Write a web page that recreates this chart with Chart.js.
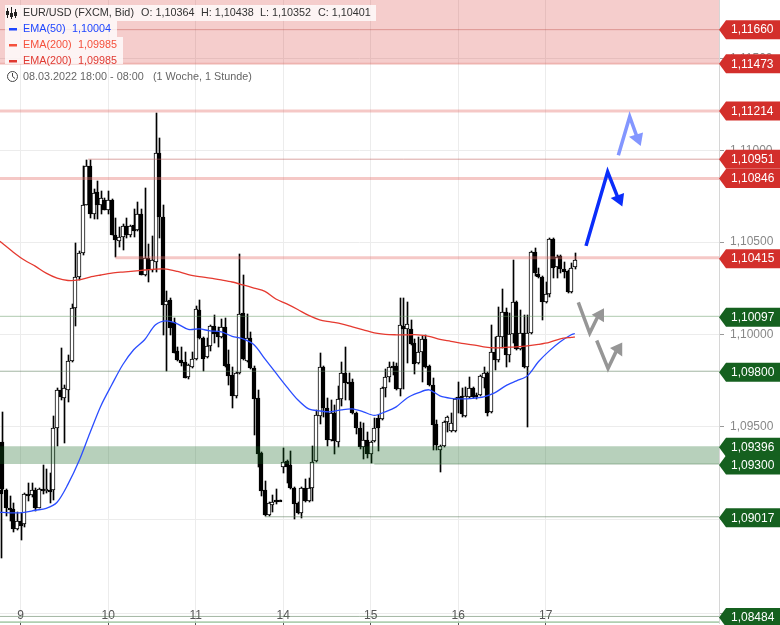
<!DOCTYPE html>
<html>
<head>
<meta charset="utf-8">
<title>EUR/USD</title>
<script src="https://cdn.jsdelivr.net/npm/chart.js@4/dist/chart.umd.min.js"></script>
<style>
  html, body { margin: 0; padding: 0; background: #fff; }
  canvas { display: block; }
</style>
</head>
<body>
<canvas id="chart" width="780" height="625"></canvas>
<script>
const opens = [
  1.09160,1.09419,1.09160,1.09062,1.09057,1.08949,1.08992,1.08976,1.09138,1.09133,
  1.09160,1.09062,1.09165,1.09160,1.09160,1.09160,1.09494,1.09700,1.09656,1.09700,
  1.09856,1.10142,1.10310,1.10439,1.10704,1.10915,1.10655,1.10774,1.10704,1.10726,
  1.10672,1.10731,1.10537,1.10504,1.10526,1.10585,1.10537,1.10591,1.10564,1.10650,
  1.10321,1.10412,1.10348,1.10391,1.10985,1.10634,1.10159,1.10186,1.10067,1.09910,
  1.09862,1.09851,1.09770,1.09824,1.09867,1.10132,1.09980,1.09878,1.09937,1.10045,
  1.10013,1.09986,1.10040,1.09840,1.09781,1.09667,1.09791,1.10115,1.09856,1.09980,
  1.09818,1.09656,1.09359,1.09160,1.09025,1.09079,1.09106,1.09106,1.09284,1.09316,
  1.09295,1.09170,1.09089,1.09035,1.09170,1.09100,1.09170,1.09316,1.09559,1.09824,
  1.09602,1.09430,1.09575,1.09419,1.09651,1.09791,1.09743,1.09743,1.09575,1.09494,
  1.09392,1.09430,1.09354,1.09424,1.09548,1.09543,1.09710,1.09770,1.09829,1.09829,
  1.09705,1.10045,1.10029,1.10029,1.09953,1.09845,1.09905,1.09975,1.09829,1.09727,
  1.09516,1.09376,1.09397,1.09527,1.09478,1.09478,1.09662,1.09667,1.09559,1.09662,
  1.09710,1.09673,1.09673,1.09764,1.09791,1.09581,1.09905,1.09862,1.09986,1.10121,
  1.09889,1.10002,1.10175,1.09921,1.10007,1.09824,1.10007,1.10445,1.10326,1.10310,
  1.10175,1.10218,1.10515,1.10364,1.10423,1.10353,1.10342,1.10229,1.10364
];
const highs = [
  1.09165,1.09581,1.09165,1.09127,1.09089,1.09041,1.09035,1.09143,1.09197,1.09197,
  1.09170,1.09170,1.09295,1.09273,1.09251,1.09559,1.09710,1.09926,1.09727,1.09889,
  1.10164,1.10493,1.10450,1.10915,1.10947,1.10947,1.10790,1.10834,1.10780,1.10742,
  1.10780,1.10736,1.10628,1.10580,1.10596,1.10628,1.10591,1.10677,1.10720,1.10682,
  1.10796,1.10488,1.10531,1.11206,1.11066,1.10699,1.10234,1.10196,1.10088,1.09932,
  1.09932,1.09905,1.09840,1.09905,1.10153,1.10186,1.09986,1.09980,1.10051,1.10105,
  1.10040,1.10083,1.10088,1.09916,1.09824,1.09797,1.10434,1.10321,1.10110,1.10013,
  1.09829,1.09700,1.09365,1.09208,1.09095,1.09133,1.09165,1.09106,1.09386,1.09322,
  1.09370,1.09176,1.09095,1.09176,1.09219,1.09224,1.09397,1.09592,1.09899,1.09829,
  1.09656,1.09646,1.09619,1.09721,1.09851,1.09932,1.09791,1.09759,1.09581,1.09527,
  1.09521,1.09473,1.09424,1.09548,1.09565,1.09716,1.09813,1.09851,1.09851,1.09845,
  1.10196,1.10196,1.10175,1.10078,1.09975,1.09986,1.09991,1.09997,1.09835,1.09764,
  1.09538,1.09403,1.09532,1.09559,1.09575,1.09656,1.09743,1.09710,1.09716,1.09770,
  1.09716,1.09683,1.09781,1.09824,1.09797,1.10051,1.09986,1.10148,1.10245,1.10142,
  1.10115,1.10402,1.10180,1.10132,1.10105,1.10105,1.10450,1.10466,1.10358,1.10315,
  1.10283,1.10520,1.10520,1.10429,1.10429,1.10391,1.10348,1.10385,1.10438
];
const lows = [
  1.08798,1.09160,1.09019,1.08992,1.08933,1.08944,1.08895,1.08960,1.09100,1.09122,
  1.09046,1.09062,1.09138,1.09143,1.09089,1.09106,1.09397,1.09646,1.09413,1.09635,
  1.09851,1.10045,1.10294,1.10429,1.10699,1.10628,1.10623,1.10623,1.10655,1.10672,
  1.10655,1.10537,1.10418,1.10472,1.10456,1.10520,1.10526,1.10526,1.10558,1.10321,
  1.10315,1.10283,1.10337,1.10337,1.10520,1.09997,1.09802,1.09997,1.09899,1.09856,
  1.09829,1.09764,1.09759,1.09818,1.09862,1.09975,1.09802,1.09872,1.09910,1.09953,
  1.09932,1.09980,1.09824,1.09727,1.09602,1.09656,1.09786,1.09862,1.09851,1.09813,
  1.09457,1.09284,1.09127,1.09019,1.09019,1.09041,1.09084,1.09100,1.09251,1.09197,
  1.09165,1.09003,1.09030,1.09008,1.09095,1.09095,1.09100,1.09311,1.09516,1.09554,
  1.09397,1.09424,1.09354,1.09392,1.09613,1.09646,1.09646,1.09570,1.09462,1.09381,
  1.09327,1.09332,1.09305,1.09419,1.09370,1.09538,1.09662,1.09743,1.09781,1.09700,
  1.09667,1.09705,1.09845,1.09943,1.09786,1.09840,1.09743,1.09818,1.09721,1.09376,
  1.09376,1.09257,1.09392,1.09473,1.09473,1.09473,1.09575,1.09554,1.09554,1.09656,
  1.09656,1.09651,1.09667,1.09710,1.09559,1.09575,1.09808,1.09851,1.09926,1.09824,
  1.09851,1.09953,1.09916,1.09916,1.09818,1.09500,1.10002,1.10315,1.10304,1.10078,
  1.10169,1.10202,1.10304,1.10304,1.10331,1.10304,1.10223,1.10223,1.10352
];
const closes = [
  1.09138,1.09165,1.09062,1.09052,1.08949,1.08992,1.08965,1.09138,1.09133,1.09160,
  1.09062,1.09165,1.09154,1.09165,1.09154,1.09494,1.09700,1.09662,1.09710,1.09856,
  1.10142,1.10310,1.10439,1.10704,1.10915,1.10655,1.10769,1.10704,1.10742,1.10672,
  1.10731,1.10537,1.10510,1.10526,1.10585,1.10537,1.10585,1.10558,1.10650,1.10321,
  1.10412,1.10348,1.10402,1.10985,1.10634,1.10159,1.10180,1.10034,1.09899,1.09862,
  1.09845,1.09764,1.09835,1.09867,1.10137,1.09980,1.09867,1.09937,1.10045,1.10002,
  1.09986,1.10040,1.09829,1.09775,1.09667,1.09791,1.10110,1.09867,1.09980,1.09818,
  1.09651,1.09354,1.09154,1.09025,1.09089,1.09095,1.09100,1.09100,1.09311,1.09284,
  1.09170,1.09084,1.09035,1.09170,1.09100,1.09170,1.09311,1.09565,1.09824,1.09602,
  1.09430,1.09575,1.09424,1.09651,1.09791,1.09737,1.09737,1.09575,1.09494,1.09392,
  1.09430,1.09354,1.09419,1.09494,1.09494,1.09710,1.09770,1.09824,1.09824,1.09705,
  1.10051,1.10029,1.10056,1.09948,1.09840,1.09905,1.09975,1.09824,1.09727,1.09511,
  1.09403,1.09397,1.09527,1.09554,1.09521,1.09651,1.09651,1.09570,1.09667,1.09710,
  1.09662,1.09662,1.09775,1.09791,1.09575,1.09905,1.09862,1.09991,1.10121,1.09889,
  1.10002,1.10175,1.09921,1.10007,1.09824,1.10007,1.10445,1.10331,1.10310,1.10175,
  1.10218,1.10515,1.10358,1.10418,1.10353,1.10337,1.10229,1.10358,1.10401
];

// moving averages, read every third hour
const emaHours = [0.34,1,4,7,10,13,16,19,22,25,28,31,34,37,40,43,46,49,52,55,58,61,64,67,70,73,76,79,82,85,88,91,94,97,100,103,106,109,112,115,118,121,124,127,130,133,136,139,142,145,148,151,154,157,158];
const ema50 = [
  1.09041,1.09041,1.09038,1.09041,1.09052,1.09062,1.09095,1.09192,1.09316,1.09467,1.09613,
  1.09727,1.09835,1.09916,1.09970,1.10051,1.10072,1.10056,1.10026,1.10029,1.10018,
  1.10013,1.09989,1.09975,1.09943,1.09867,1.09791,1.09716,1.09646,1.09597,1.09586,
  1.09581,1.09592,1.09597,1.09581,1.09562,1.09581,1.09608,1.09656,1.09683,1.09700,
  1.09667,1.09654,1.09651,1.09654,1.09662,1.09683,1.09721,1.09748,1.09775,1.09851,
  1.09910,1.09959,1.09997,1.10004
];
const ema200 = [
  1.10504,1.10493,1.10445,1.10402,1.10369,1.10331,1.10304,1.10291,1.10294,1.10310,1.10321,
  1.10331,1.10337,1.10342,1.10348,1.10353,1.10353,1.10340,1.10323,1.10312,1.10304,
  1.10294,1.10283,1.10267,1.10250,1.10232,1.10191,1.10164,1.10134,1.10102,1.10078,
  1.10067,1.10056,1.10040,1.10024,1.10007,1.09999,1.09997,1.09997,1.09997,1.09989,
  1.09972,1.09962,1.09951,1.09943,1.09932,1.09926,1.09929,1.09932,1.09937,1.09945,
  1.09956,1.09975,1.09983,1.09985
];

const dayLabels = ['9', '10', '11', '14', '15', '16', '17'];
const dayHours = [6, 30, 54, 78, 102, 126, 150];
const priceTicks = [1.085, 1.09, 1.095, 1.10, 1.105, 1.11, 1.115];

const redLevels = [1.11660, 1.11473, 1.11214, 1.10951, 1.10846, 1.10415];
const greenLevels = [1.10097, 1.09800, 1.09396, 1.09300, 1.09017, 1.08484];

// sketched scenarios: [hour, price]
const blueShaft = [[161.07,1.10479],[167.0,1.10882],[169.8,1.10742]];
const blueHead = [[167.84,1.10740],[171.5,1.10767],[171.03,1.10693],[167.84,1.10740]];
const paleShaft = [[169.93,1.10972],[173.05,1.11183],[174.97,1.11077]];
const paleHead = [[172.86,1.11073],[176.7,1.11097],[176.07,1.11023],[172.86,1.11073]];
const greyShaftA = [[158.95,1.10173],[162.08,1.10006],[164.27,1.10095]];
const greyHeadA = [[162.63,1.10105],[166,1.10141],[166,1.10065],[162.63,1.10105]];
const greyShaftB = [[164,1.09966],[167.1,1.09815],[169.3,1.09906]];
const greyHeadB = [[167.65,1.09925],[171,1.09955],[171,1.09879],[167.65,1.09925]];

const xMin = 0.342, xMax = 197.54;
const yMin = 1.08449, yMax = 1.11823;

const fmt = v => v.toFixed(5).replace('.', ',');
const hourOf = i => (i === 0 ? 0.5 : i);
const pts = list => list.map(p => ({ x: p[0], y: p[1] }));

function level(price, from, color, width) {
  return {
    type: 'line', order: 20, data: [{ x: from, y: price }, { x: xMax, y: price }],
    borderColor: color, borderWidth: width, pointRadius: 0, tension: 0
  };
}
function band(top, bottom, color) {
  return {
    type: 'line', order: 21, data: [{ x: xMin, y: top }, { x: xMax, y: top }],
    borderWidth: 0, pointRadius: 0, backgroundColor: color, fill: { value: bottom }
  };
}
function shaft(list, color) {
  return {
    type: 'line', order: 5, data: pts(list), borderColor: color, borderWidth: 3.5,
    pointRadius: 0, tension: 0, borderJoinStyle: 'miter', borderCapStyle: 'butt'
  };
}
function head(list, color) {
  return {
    type: 'line', order: 5, data: pts(list), borderWidth: 0, pointRadius: 0,
    backgroundColor: color, fill: 'shape', tension: 0
  };
}
function ema(values, color) {
  return {
    type: 'line', order: 10, data: values.map((v, i) => ({ x: emaHours[i], y: v })),
    borderColor: color, borderWidth: 1.3, pointRadius: 0, tension: 0.3
  };
}

const pinkWide = 'rgba(228,110,105,0.38)';
const greenThin = 'rgba(95,150,95,0.5)';
const greyGreen = 'rgba(85,120,85,0.55)';

const datasets = [
  {
    type: 'bar', order: 40, barThickness: 1, grouped: false,
    data: highs.map((h, i) => ({ x: hourOf(i), y: [lows[i], h] })),
    backgroundColor: '#000', borderWidth: 0
  },
  {
    type: 'bar', order: 30, barThickness: 4, grouped: false,
    data: opens.map((o, i) => ({ x: hourOf(i), y: [Math.min(o, closes[i]), Math.max(o, closes[i])] })),
    backgroundColor: opens.map((o, i) => (closes[i] >= o ? '#fff' : '#000')),
    borderColor: '#000', borderWidth: 1, borderSkipped: false
  },
  band(yMax, 1.11473, 'rgba(214,46,40,0.24)'),
  band(1.09396, 1.09300, 'rgba(17,100,30,0.3)'),
  level(1.11660, xMin, 'rgba(190,80,70,0.45)', 1),
  level(1.11473, xMin, 'rgba(214,90,80,0.3)', 2),
  level(1.11214, xMin, pinkWide, 3),
  level(1.10951, 24.5, 'rgba(190,90,85,0.55)', 1),
  level(1.10846, xMin, pinkWide, 3),
  level(1.10415, 32, pinkWide, 3),
  level(1.10097, xMin, greenThin, 1),
  level(1.09800, xMin, greyGreen, 1),
  level(1.09300, 103, 'rgba(85,130,90,0.5)', 1),
  level(1.09017, 73, greyGreen, 1),
  level(1.08484, xMin, greyGreen, 1),
  level(1.08453, xMin, 'rgba(95,160,100,0.5)', 2),
  ema(ema200, '#e53a30'),
  ema(ema50, '#2a4dff'),
  shaft(blueShaft, '#0a2dfa'),
  head(blueHead, '#0a2dfa'),
  shaft(paleShaft, '#8396ff'),
  head(paleHead, '#8396ff'),
  shaft(greyShaftA, '#969696'),
  head(greyHeadA, '#969696'),
  shaft(greyShaftB, '#969696'),
  head(greyHeadB, '#969696')
];

function drawTag(ctx, y, price, color) {
  ctx.fillStyle = color;
  ctx.beginPath();
  ctx.moveTo(719, y);
  ctx.lineTo(726, y - 9.5);
  ctx.lineTo(780, y - 9.5);
  ctx.lineTo(780, y + 9.5);
  ctx.lineTo(726, y + 9.5);
  ctx.closePath();
  ctx.fill();
  ctx.fillStyle = '#fff';
  ctx.font = '12px "Liberation Sans"';
  ctx.textAlign = 'left';
  ctx.textBaseline = 'middle';
  ctx.fillText(fmt(price), 731, y + 0.5);
}

function drawHeader(ctx) {
  ctx.fillStyle = 'rgba(255,255,255,0.78)';
  ctx.fillRect(5, 5, 371, 16);
  ctx.fillRect(5, 21, 112, 16);
  ctx.fillRect(5, 37, 118, 16);
  ctx.fillRect(5, 53, 118, 11);

  ctx.font = '10.8px "Liberation Sans"';
  ctx.textAlign = 'left';
  ctx.textBaseline = 'middle';
  const row = (text, x, y, color) => {
    ctx.fillStyle = color;
    ctx.fillText(text, x, y + 0.5);
  };
  row('EUR/USD (FXCM, Bid)', 23, 13, '#333');
  row('O: ' + fmt(opens[opens.length - 1]), 141, 13, '#333');
  row('H: ' + fmt(highs[highs.length - 1]), 201, 13, '#333');
  row('L: ' + fmt(lows[lows.length - 1]), 260, 13, '#333');
  row('C: ' + fmt(closes[closes.length - 1]), 318, 13, '#333');
  row('EMA(50)', 23, 29, '#1f46ff');
  row(fmt(ema50[ema50.length - 1]), 72, 29, '#1f46ff');
  row('EMA(200)', 23, 45, '#f5503c');
  row(fmt(ema200[ema200.length - 1]), 78, 45, '#f5503c');
  row('EMA(200)', 23, 61, '#e03a32');
  row(fmt(ema200[ema200.length - 1]), 78, 61, '#e03a32');
  row('08.03.2022 18:00 - 08:00', 23, 77, '#666');
  row('(1 Woche, 1 Stunde)', 153, 77, '#666');

  // legend dashes
  ctx.fillStyle = '#1f46ff';
  ctx.fillRect(9, 28, 8, 2.5);
  ctx.fillStyle = '#f5503c';
  ctx.fillRect(9, 44, 8, 2.5);
  ctx.fillStyle = '#e03a32';
  ctx.fillRect(9, 60, 8, 2.5);

  // candle icon
  ctx.strokeStyle = '#222';
  ctx.fillStyle = '#222';
  ctx.lineWidth = 1;
  [[7.5, 8, 18, 11, 4], [11.5, 7, 19, 13, 4], [15.5, 9, 18, 12, 4]].forEach(c => {
    ctx.beginPath();
    ctx.moveTo(c[0], c[1]);
    ctx.lineTo(c[0], c[2]);
    ctx.stroke();
    ctx.fillRect(c[0] - 1.5, c[3], 3, c[4]);
  });

  // clock icon
  ctx.strokeStyle = '#444';
  ctx.beginPath();
  ctx.arc(12.5, 76.5, 5, 0, Math.PI * 2);
  ctx.moveTo(12.5, 73);
  ctx.lineTo(12.5, 76.5);
  ctx.lineTo(15, 78.5);
  ctx.stroke();
}

const overlay = {
  id: 'overlay',
  // snap the candles to whole pixels so they stay crisp
  beforeDatasetsDraw(chart) {
    chart.getDatasetMeta(0).data.forEach(el => {
      el.x = Math.round(el.x) + 0.5;
      el.y = Math.round(el.y);
      el.base = Math.round(el.base);
    });
    chart.getDatasetMeta(1).data.forEach(el => {
      el.x = Math.round(el.x);
      el.y = Math.round(el.y);
      el.base = Math.round(el.base);
      if (Math.abs(el.base - el.y) < 2) el.base = el.y + 2;
    });
  },
  afterDraw(chart) {
    const ctx = chart.ctx, y = chart.scales.y;
    ctx.save();
    drawHeader(ctx);
    // the lower tags sit a pixel under their lines
    const tagY = p => { const py = y.getPixelForValue(p); return py > 200 ? py + 1 : py; };
    redLevels.forEach(p => drawTag(ctx, tagY(p), p, '#d32f2b'));
    greenLevels.forEach(p => drawTag(ctx, tagY(p), p, '#15601f'));
    ctx.restore();
  }
};

function noPadding(s) {
  s.paddingTop = s.paddingBottom = s.paddingLeft = s.paddingRight = 0;
}

new Chart(document.getElementById('chart'), {
  type: 'bar',
  data: { datasets },
  plugins: [overlay],
  options: {
    responsive: false,
    animation: false,
    events: [],
    layout: { padding: 0 },
    plugins: { legend: { display: false }, tooltip: { enabled: false } },
    scales: {
      x: {
        type: 'linear', min: xMin, max: xMax, offset: false,
        grid: { offset: false, color: '#ececec', tickColor: '#555', tickLength: 3 },
        border: { display: false },
        afterBuildTicks: s => { s.ticks = dayHours.map(value => ({ value })); },
        afterFit: s => { s.height = 2; noPadding(s); },
        ticks: {
          autoSkip: false, maxRotation: 0, mirror: true, padding: 0, color: '#555',
          font: { family: 'Liberation Sans', size: 12 },
          callback: v => dayLabels[dayHours.indexOf(v)]
        }
      },
      y: {
        type: 'logarithmic', position: 'right', min: yMin, max: yMax,
        grid: { color: '#ececec', tickColor: '#999', tickLength: 5 },
        border: { color: '#d6d6d6' },
        afterBuildTicks: s => { s.ticks = priceTicks.map(value => ({ value })); },
        afterFit: s => { s.width = 61; noPadding(s); },
        ticks: {
          autoSkip: false, padding: 6, color: '#888',
          font: { family: 'Liberation Sans', size: 12 },
          callback: v => fmt(v)
        }
      }
    }
  }
});
</script>
</body>
</html>
